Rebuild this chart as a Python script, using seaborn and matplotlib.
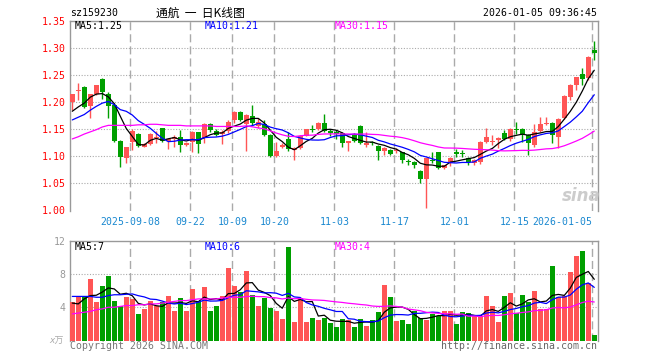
import numpy as np
import pandas as pd
import matplotlib
matplotlib.use("Agg")
import matplotlib.pyplot as plt
import seaborn as sns

# -------------------------------
# Daily K-line data, sz159230
# -------------------------------
opens = [1.201, 1.220, 1.227, 1.192, 1.215, 1.243, 1.215, 1.195, 1.128, 1.097,
         1.126, 1.141, 1.118, 1.122, 1.133, 1.152, 1.129, 1.132, 1.136, 1.120,
         1.126, 1.144, 1.133, 1.160, 1.147, 1.141, 1.147, 1.166, 1.182, 1.160,
         1.175, 1.156, 1.160, 1.139, 1.101, 1.117, 1.132, 1.112, 1.116, 1.138,
         1.151, 1.150, 1.161, 1.147, 1.145, 1.143, 1.125, 1.139, 1.156, 1.120,
         1.127, 1.119, 1.110, 1.112, 1.109, 1.107, 1.091, 1.090, 1.073, 1.059,
         1.094, 1.107, 1.078, 1.087, 1.107, 1.106, 1.097, 1.088, 1.089, 1.126,
         1.126, 1.130, 1.143, 1.131, 1.151, 1.150, 1.139, 1.120, 1.146, 1.160,
         1.161, 1.136, 1.170, 1.210, 1.231, 1.252, 1.244, 1.296]
highs = [1.215, 1.235, 1.229, 1.215, 1.232, 1.244, 1.218, 1.198, 1.130, 1.118,
         1.150, 1.143, 1.125, 1.142, 1.146, 1.153, 1.134, 1.140, 1.148, 1.127,
         1.146, 1.145, 1.161, 1.161, 1.150, 1.149, 1.166, 1.183, 1.184, 1.178,
         1.195, 1.170, 1.167, 1.141, 1.127, 1.124, 1.145, 1.117, 1.140, 1.151,
         1.157, 1.163, 1.178, 1.150, 1.148, 1.145, 1.129, 1.142, 1.158, 1.144,
         1.128, 1.120, 1.117, 1.113, 1.115, 1.108, 1.095, 1.092, 1.075, 1.097,
         1.107, 1.108, 1.084, 1.099, 1.113, 1.112, 1.099, 1.095, 1.128, 1.152,
         1.140, 1.136, 1.148, 1.152, 1.164, 1.152, 1.141, 1.159, 1.173, 1.173,
         1.163, 1.171, 1.213, 1.233, 1.247, 1.263, 1.284, 1.312]
lows = [1.186, 1.204, 1.189, 1.170, 1.213, 1.205, 1.171, 1.126, 1.080, 1.087,
        1.112, 1.117, 1.117, 1.121, 1.124, 1.127, 1.113, 1.118, 1.107, 1.119,
        1.108, 1.106, 1.125, 1.145, 1.137, 1.123, 1.143, 1.161, 1.165, 1.110,
        1.158, 1.152, 1.137, 1.098, 1.098, 1.115, 1.110, 1.094, 1.114, 1.137,
        1.145, 1.148, 1.144, 1.137, 1.131, 1.117, 1.110, 1.126, 1.123, 1.118,
        1.120, 1.094, 1.102, 1.102, 1.106, 1.087, 1.083, 1.079, 1.050, 1.004,
        1.088, 1.076, 1.076, 1.082, 1.099, 1.098, 1.083, 1.084, 1.086, 1.124,
        1.120, 1.115, 1.130, 1.128, 1.141, 1.127, 1.102, 1.118, 1.144, 1.158,
        1.124, 1.116, 1.168, 1.204, 1.223, 1.232, 1.241, 1.278]
closes = [1.214, 1.223, 1.191, 1.214, 1.231, 1.219, 1.193, 1.128, 1.098, 1.118,
          1.146, 1.119, 1.123, 1.141, 1.136, 1.129, 1.132, 1.135, 1.120, 1.125,
          1.144, 1.122, 1.160, 1.148, 1.140, 1.145, 1.164, 1.181, 1.167, 1.176,
          1.161, 1.164, 1.139, 1.101, 1.110, 1.121, 1.113, 1.115, 1.138, 1.150,
          1.149, 1.162, 1.146, 1.142, 1.141, 1.125, 1.128, 1.128, 1.125, 1.125,
          1.125, 1.110, 1.116, 1.104, 1.111, 1.094, 1.089, 1.083, 1.059, 1.096,
          1.092, 1.078, 1.083, 1.097, 1.105, 1.104, 1.089, 1.093, 1.126, 1.136,
          1.128, 1.134, 1.132, 1.150, 1.149, 1.139, 1.124, 1.144, 1.159, 1.162,
          1.140, 1.169, 1.212, 1.231, 1.246, 1.243, 1.283, 1.290]
# volume in x万
volumes = [4.6, 5.3, 5.3, 7.4, 4.6, 6.5, 7.8, 4.7, 4.2, 5.2,
           5.0, 3.2, 3.8, 4.8, 4.1, 4.6, 5.4, 3.6, 5.1, 3.6,
           6.2, 4.8, 6.4, 3.6, 4.2, 5.3, 8.7, 6.5, 5.8, 8.3,
           5.5, 4.2, 5.1, 3.9, 3.6, 2.6, 11.2, 2.2, 5.1, 2.2,
           2.7, 2.5, 2.7, 2.1, 1.6, 2.6, 2.5, 1.6, 2.6, 1.8,
           2.5, 3.4, 6.7, 5.2, 2.3, 2.5, 2.0, 3.6, 2.7, 2.5,
           3.2, 3.0, 3.5, 3.5, 2.0, 3.4, 3.3, 2.9, 2.9, 5.3,
           4.2, 2.2, 5.3, 5.7, 3.3, 5.5, 4.6, 6.0, 3.8, 3.8,
           8.9, 5.2, 5.4, 8.2, 10.2, 10.8, 6.9, 0.7]

# moving averages at the left edge (they use days before the window)
ma5_head = [1.183, 1.191, 1.198, 1.209]
ma10_head = [1.167, 1.172, 1.177, 1.185, 1.192, 1.198, 1.201, 1.195, 1.186]
ma30_head = [1.132, 1.136, 1.141, 1.145, 1.149, 1.154, 1.157, 1.157, 1.157, 1.157,
             1.157, 1.158, 1.158, 1.159, 1.159, 1.158, 1.157, 1.157, 1.157, 1.156,
             1.156, 1.156, 1.156, 1.156, 1.155, 1.155, 1.155, 1.155, 1.155]
vma5_head = [4.5, 4.4, 5.0, 5.4]
vma10_head = [5.3, 5.3, 5.3, 5.3, 5.2, 5.2, 5.4, 5.5, 5.5]
vma30_head = [3.2, 3.3, 3.4, 3.5, 3.7, 3.8, 4.0, 4.0, 4.1, 4.2,
              4.2, 4.3, 4.3, 4.4, 4.4, 4.5, 4.6, 4.7, 4.8, 4.8,
              4.9, 5.0, 5.0, 5.0, 5.0, 5.1, 5.2, 5.2, 5.2]

tick_idx = [10, 20, 27, 34, 44, 54, 64, 74, 87]
tick_labels = ["2025-09-08", "09-22", "10-09", "10-20", "11-03",
               "11-17", "12-01", "12-15", "2026-01-05"]
price_ticks = [1.00, 1.05, 1.10, 1.15, 1.20, 1.25, 1.30, 1.35]
vol_ticks = [4, 8, 12]

# -------------------------------
# Prepare frame
# -------------------------------
df = pd.DataFrame({"open": opens, "high": highs, "low": lows,
                   "close": closes, "vol": volumes})
df["idx"] = np.arange(len(df))
df["dir"] = np.where(df["close"] >= df["open"], "up", "down")


def moving_avg(s, n, head):
    m = s.rolling(n).mean()
    m.iloc[:len(head)] = head
    return m


df["ma5"] = moving_avg(df["close"], 5, ma5_head)
df["ma10"] = moving_avg(df["close"], 10, ma10_head)
df["ma30"] = moving_avg(df["close"], 30, ma30_head)
df["vma5"] = moving_avg(df["vol"], 5, vma5_head)
df["vma10"] = moving_avg(df["vol"], 10, vma10_head)
df["vma30"] = moving_avg(df["vol"], 30, vma30_head)

RED = "#ff5555"
GREEN = "#009f00"
GRID = "#aaaaaa"
FRAME = "#999999"
colors = df["dir"].map({"up": RED, "down": GREEN})

sns.set_style("white")
plt.rcParams["font.family"] = ["DejaVu Sans Mono", "Noto Sans CJK SC"]

W, H = 660, 360
fig = plt.figure(figsize=(W / 100, H / 100), dpi=100)


def px(x, y):
    return x / W, 1 - y / H


ax = fig.add_axes([70 / W, 1 - 210.5 / H, 528 / W, 189.8 / H])
axv = fig.add_axes([70 / W, 1 - 340.5 / H, 528 / W, 99.8 / H])
xlim = (-0.38, 87.62)

# -------------------------------
# Price panel
# -------------------------------
for v in price_ticks[1:-1]:
    ax.axhline(v, color=GRID, lw=0.8, ls=(0, (1, 1.5)), zorder=0)
for t in tick_idx:
    ax.axvline(t - 0.33, color=GRID, lw=1, ls=(0, (5.8, 2.9)), zorder=0)

body = (df["close"] - df["open"]).abs().clip(lower=0.0018)
bottom = df[["open", "close"]].min(axis=1)
ax.vlines(df["idx"], df["low"], df["high"], colors=colors, lw=1, zorder=2)
ax.bar(df["idx"], body, bottom=bottom, width=0.8, color=colors, lw=0, zorder=3)

sns.lineplot(x=df["idx"], y=df["ma5"], color="black", lw=0.9, ax=ax, zorder=4)
sns.lineplot(x=df["idx"], y=df["ma10"], color="#0000ff", lw=0.9, ax=ax, zorder=4)
sns.lineplot(x=df["idx"], y=df["ma30"], color="#ff00ff", lw=0.9, ax=ax, zorder=4)

ax.set_xlim(*xlim)
ax.set_ylim(1.00, 1.35)
ax.set_yticks(price_ticks)
ax.set_yticklabels([f"{v:.2f}" for v in price_ticks], color="#ff0000", fontsize=7.1)
ax.set_xticks([t - 0.33 for t in tick_idx])
ax.set_xticklabels(tick_labels, color="#1a88d0", fontsize=7.1)
ax.get_xticklabels()[-1].set_ha("right")
ax.tick_params(axis="y", length=0, pad=3)
ax.tick_params(axis="x", length=0, pad=5)
ax.set_xlabel("")
ax.set_ylabel("")
for side in ["left", "top", "right"]:
    ax.spines[side].set_color(FRAME)
    ax.spines[side].set_linewidth(1)
ax.spines["bottom"].set_visible(False)

# -------------------------------
# Volume panel
# -------------------------------
for v in vol_ticks[:-1]:
    axv.axhline(v, color=GRID, lw=0.8, ls=(0, (1, 1.5)), zorder=0)
for t in tick_idx:
    axv.axvline(t - 0.33, color=GRID, lw=1, ls=(0, (5.8, 2.9)), zorder=0)

sns.barplot(data=df, x="idx", y="vol", hue="dir", palette={"up": RED, "down": GREEN},
            dodge=False, width=0.8, saturation=1, errorbar=None, legend=False,
            native_scale=True, linewidth=0, ax=axv, zorder=3)
sns.lineplot(x=df["idx"], y=df["vma5"], color="black", lw=0.9, ax=axv, zorder=4)
sns.lineplot(x=df["idx"], y=df["vma10"], color="#0000ff", lw=0.9, ax=axv, zorder=4)
sns.lineplot(x=df["idx"], y=df["vma30"], color="#ff00ff", lw=0.9, ax=axv, zorder=4)

axv.set_xlim(*xlim)
axv.set_ylim(0, 12)
axv.set_xticks([])
axv.set_yticks(vol_ticks)
axv.set_yticklabels([str(v) for v in vol_ticks], color="#999999", fontsize=7.1)
axv.tick_params(axis="y", length=0, pad=3)
axv.set_xlabel("")
axv.set_ylabel("")
for side in ["left", "top", "right"]:
    axv.spines[side].set_color(FRAME)
    axv.spines[side].set_linewidth(1)
axv.spines["bottom"].set_visible(False)

# -------------------------------
# Texts
# -------------------------------
fs = 7.1
fig.text(*px(70, 13.5), "sz159230", fontsize=fs, va="center", ha="left", color="black")
fig.text(*px(200, 13), "通航  一  日K线图", fontsize=8.5, va="center", ha="center",
         family=["Noto Sans CJK SC", "DejaVu Sans"], color="black")
fig.text(*px(597, 13.5), "2026-01-05 09:36:45", fontsize=fs, va="center", ha="right",
         color="black")

fig.text(*px(75, 26.3), f"MA5:{1.25:.2f}", fontsize=fs, va="center", color="black")
fig.text(*px(205, 26.3), f"MA10:{1.21:.2f}", fontsize=fs, va="center", color="#0000ff")
fig.text(*px(335, 26.3), f"MA30:{1.15:.2f}", fontsize=fs, va="center", color="#ff00ff")

fig.text(*px(75, 246.7), "MA5:7", fontsize=fs, va="center", color="black")
fig.text(*px(205, 246.7), "MA10:6", fontsize=fs, va="center", color="#0000ff")
fig.text(*px(335, 246.7), "MA30:4", fontsize=fs, va="center", color="#ff00ff")

fig.text(*px(64, 341), "x万", fontsize=6.5, va="center", ha="right", color="#aaaaaa",
         style="italic", family=["DejaVu Sans Mono", "Noto Sans CJK SC"])
fig.text(*px(70, 346), "Copyright 2026 SINA.COM", fontsize=fs, va="center",
         ha="left", color="#777777")
fig.text(*px(597, 346), "http://finance.sina.com.cn", fontsize=fs, va="center",
         ha="right", color="#666666")

# faint sina watermark
fig.text(*px(581, 196), "sina", fontsize=12, va="center", ha="center", color="#cccccc",
         style="italic", weight="bold", family="DejaVu Sans")

fig.savefig("out.png", dpi=100)
